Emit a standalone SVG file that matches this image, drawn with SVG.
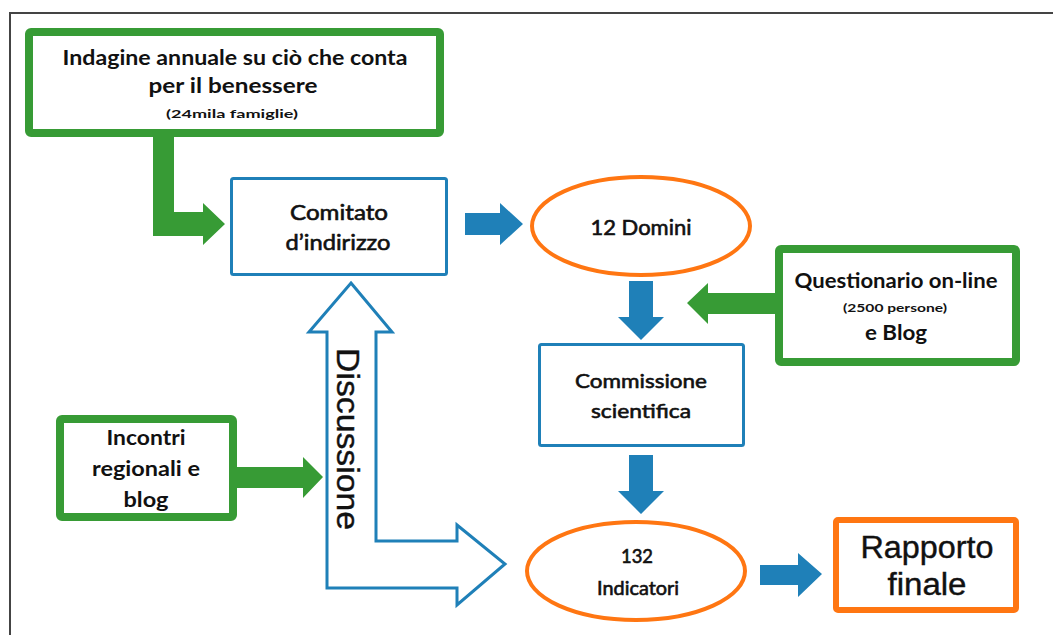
<svg xmlns="http://www.w3.org/2000/svg" width="1053" height="635" viewBox="0 0 1053 635">
<style>
.g{fill:#fff;stroke:#379b35;stroke-width:8}
.b{fill:#fff;stroke:#1f80b8;stroke-width:3}
.o{fill:#fff;stroke:#ff7612;stroke-width:4}
.t{font-family:Lato,"Open Sans","Liberation Sans",sans-serif;fill:#111;text-anchor:middle}
.n{stroke:#111;stroke-width:0.6}
.s{font-size:11px;font-weight:bold}
.a{font-family:"Liberation Sans",Arial,sans-serif;fill:#111;text-anchor:middle;stroke:#111;stroke-width:0.4}
.ga{fill:#379b35}
.ba{fill:#1f80b8}
</style>
<rect width="1053" height="635" fill="#fff"/>
<g id="frame" stroke="#444" stroke-width="2" fill="none">
<path d="M10 635 V13 H1053"/>
</g>
<g id="connectors">
<polygon class="ga" points="153,137 174,137 174,212 203,212 203,203 225,224 203,245 203,236 153,236"/>
<polygon class="ba" points="465,213 500,213 500,203 523,224 500,245 500,235 465,235"/>
<polygon class="ba" points="629,281 653,281 653,317 664,317 641,340 618,317 629,317"/>
<polygon class="ba" points="629,455 653,455 653,491 664,491 641,514 618,491 629,491"/>
<polygon class="ba" points="760,565 798,565 798,553 822,574 798,597 798,585 760,585"/>
<polygon class="ga" points="775,293 708,293 708,283 687,303 708,324 708,314 775,314"/>
<polygon class="ga" points="237,467 303,467 303,457 323,477 303,498 303,488 237,488"/>
<polygon fill="#fff" stroke="#1f80b8" stroke-width="3" stroke-linejoin="miter" points="351,283 392,332 376,332 376,541 457,541 457,525 505,564 457,605 457,588 327,588 327,332 309,332"/>
<text class="a" font-size="32" transform="translate(337,439) rotate(90)" textLength="182" lengthAdjust="spacingAndGlyphs">Discussione</text>
</g>
<g id="indagine">
<rect class="g" x="29" y="32" width="411" height="101" rx="2"/>
<text class="t" font-size="20" font-weight="bold" x="235" y="65" textLength="345" lengthAdjust="spacingAndGlyphs">Indagine annuale su ciò che conta</text>
<text class="t" font-size="20" font-weight="bold" x="233" y="93" textLength="169" lengthAdjust="spacingAndGlyphs">per il benessere</text>
<text class="t s" x="232" y="118" textLength="132" lengthAdjust="spacingAndGlyphs">(24mila famiglie)</text>
</g>
<g id="comitato">
<rect class="b" x="231.5" y="178.5" width="215" height="96" rx="2"/>
<text class="t n" font-size="21" x="339" y="220" textLength="98" lengthAdjust="spacingAndGlyphs">Comitato</text>
<text class="t n" font-size="21" x="338" y="250" textLength="105" lengthAdjust="spacingAndGlyphs">d’indirizzo</text>
</g>
<g id="domini">
<ellipse class="o" cx="641" cy="226" rx="109" ry="49"/>
<text class="t n" font-size="21" x="641" y="235" textLength="101" lengthAdjust="spacingAndGlyphs">12 Domini</text>
</g>
<g id="questionario">
<rect class="g" x="779" y="249" width="237" height="113" rx="2"/>
<text class="t" font-size="21" font-weight="bold" x="896" y="288" textLength="203" lengthAdjust="spacingAndGlyphs">Questionario on-line</text>
<text class="t s" x="895" y="312" textLength="104" lengthAdjust="spacingAndGlyphs">(2500 persone)</text>
<text class="t" font-size="21" font-weight="bold" x="896" y="340" textLength="62" lengthAdjust="spacingAndGlyphs">e Blog</text>
</g>
<g id="commissione">
<rect class="b" x="539.5" y="344.5" width="204" height="101" rx="2"/>
<text class="t n" font-size="20" x="641" y="388" textLength="132" lengthAdjust="spacingAndGlyphs">Commissione</text>
<text class="t n" font-size="20" x="641" y="418" textLength="100" lengthAdjust="spacingAndGlyphs">scientifica</text>
</g>
<g id="incontri">
<rect class="g" x="60" y="419" width="173" height="98" rx="2"/>
<text class="t" font-size="20" font-weight="bold" x="146" y="445" textLength="79" lengthAdjust="spacingAndGlyphs">Incontri</text>
<text class="t" font-size="20" font-weight="bold" x="146" y="476" textLength="108" lengthAdjust="spacingAndGlyphs">regionali e</text>
<text class="t" font-size="20" font-weight="bold" x="146" y="507" textLength="45" lengthAdjust="spacingAndGlyphs">blog</text>
</g>
<g id="indicatori">
<ellipse class="o" cx="636" cy="571" rx="109" ry="49"/>
<text class="t n" font-size="19" x="637" y="563" textLength="32" lengthAdjust="spacingAndGlyphs">132</text>
<text class="t n" font-size="19" x="638" y="595" textLength="82" lengthAdjust="spacingAndGlyphs">Indicatori</text>
</g>
<g id="rapporto">
<rect x="836" y="520" width="180" height="90" fill="#fff" stroke="#ff7612" stroke-width="6" rx="2"/>
<text class="a" font-size="31" x="927" y="558" textLength="133" lengthAdjust="spacingAndGlyphs">Rapporto</text>
<text class="a" font-size="31" x="927" y="595" textLength="79" lengthAdjust="spacingAndGlyphs">finale</text>
</g>
</svg>
